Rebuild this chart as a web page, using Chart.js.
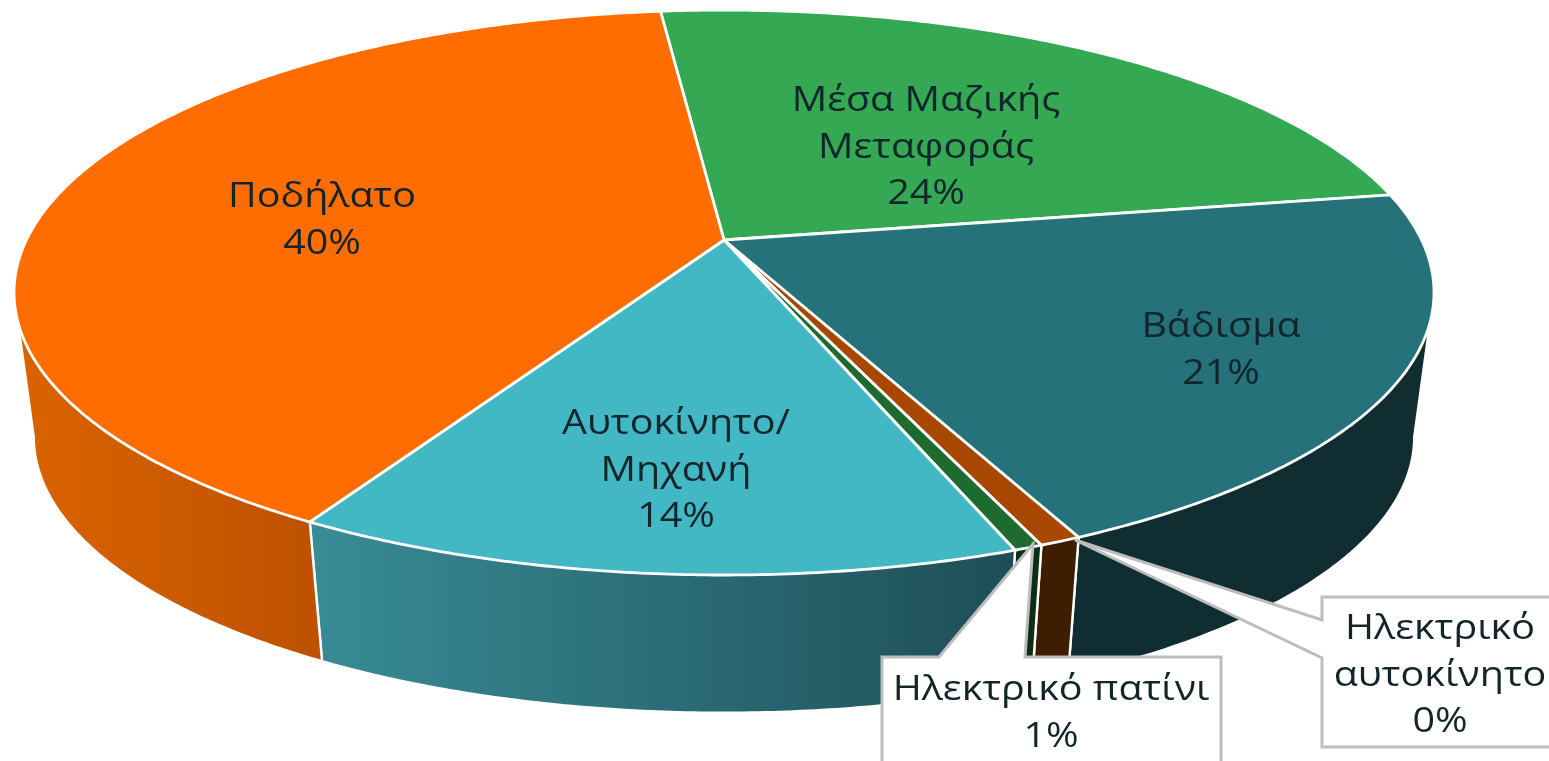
<!DOCTYPE html>
<html><head><meta charset="utf-8">
<style>html,body{margin:0;padding:0;background:#fff}canvas{display:block;filter:blur(0.7px)}</style>
<script src="https://cdn.jsdelivr.net/npm/chart.js@4"></script>
</head><body><canvas id="c" width="1549" height="761"></canvas>
<script>
// Data, in drawing order clockwise from the top
const categories = ['Μέσα Μαζικής Μεταφοράς','Βάδισμα','Ηλεκτρικό αυτοκίνητο','Ηλεκτρικό πατίνι','Αυτοκίνητο/ Μηχανή','Ποδήλατο'];
const shareValues = [24, 20.8, 0.8, 0.55, 13.9, 40];
const percentLabels = ['24%','21%','0%','1%','14%','40%'];
const labelLines = [['Μέσα Μαζικής','Μεταφοράς'],['Βάδισμα'],['Ηλεκτρικό','αυτοκίνητο'],['Ηλεκτρικό πατίνι'],['Αυτοκίνητο/','Μηχανή'],['Ποδήλατο']];

// Styles
const topColors = ['#34A853','#25727A','#A84700','#1E6B30','#42B8C4','#FF6D00'];
const wallLeft  = ['#34A853','#102D31','#3F1D00','#0B2F14','#388C96','#DB6300'];
const wallRight = ['#34A853','#102D31','#3F1D00','#0B2F14','#1E4E57','#BD5100'];
const labelCenters = [[926,148],[1221,351],[1440,676],[1051,714],[676,471],[322,221]];
const rotationDeg = -6.2;

// Perspective projection of the unit disc
const K = 0.186, CX = 724;
const TOP = {a:697.6, b:272.7, cy:240};
const BOT = {a:677,   b:265,   cy:386};
function project(p, angle, r){
  const u = Math.cos(angle)*r, v = Math.sin(angle)*r, w = 1 - K*v;
  return [CX + p.a*u/w, p.cy + p.b*v/w];
}
const D = Math.PI/180;
const topLim = [18.1*D, 161.9*D], botLim = [10.7*D, 169.3*D];
function samples(a0, a1){
  const n = Math.max(2, Math.ceil(Math.abs(a1-a0)/(0.5*D))), out=[];
  for(let i=0;i<=n;i++) out.push(a0+(a1-a0)*i/n);
  return out;
}
function wall(ctx, arc, i){
  const s = arc.startAngle, e = arc.endAngle;
  const clampT = x=>Math.min(topLim[1],Math.max(topLim[0],x));
  const clampB = x=>Math.min(botLim[1],Math.max(botLim[0],x));
  if(e <= topLim[0]-0.01 && e <= botLim[0]) return;
  if(s >= Math.PI) return;
  const sT = s<=topLim[0]?topLim[0]:clampT(s), eT = clampT(e);
  const sB = s<=topLim[0]?botLim[0]:clampB(s), eB = e>=topLim[1]?botLim[1]:clampB(e);
  if(eT<=sT) return;
  const pts = [];
  samples(sT,eT).forEach(a=>pts.push(project(TOP,a,1)));
  samples(eB,sB).forEach(a=>pts.push(project(BOT,a,1)));
  const xs = pts.map(p=>p[0]);
  const g2 = ctx.createLinearGradient(Math.min(...xs),0,Math.max(...xs),0);
  g2.addColorStop(0,wallLeft[i]); g2.addColorStop(1,wallRight[i]);
  ctx.beginPath();
  pts.forEach((p,j)=>j?ctx.lineTo(p[0],p[1]):ctx.moveTo(p[0],p[1]));
  ctx.closePath();
  ctx.fillStyle = g2; ctx.fill();
  // Seams
  ctx.strokeStyle='#fff'; ctx.lineWidth=2.4;
  [[s,sT,sB],[e,eT,eB]].forEach(([edge,t,b])=>{
    if(edge>topLim[0] && edge<topLim[1]){
      const p=project(TOP,t,1), q=project(BOT,b,1);
      ctx.beginPath(); ctx.moveTo(p[0],p[1]); ctx.lineTo(q[0],q[1]); ctx.stroke();
    }
  });
}
function face(ctx, arc, i){
  const c = project(TOP,0,0);
  ctx.beginPath(); ctx.moveTo(c[0],c[1]);
  samples(arc.startAngle,arc.endAngle).forEach(a=>{const p=project(TOP,a,1);ctx.lineTo(p[0],p[1]);});
  ctx.closePath();
  ctx.fillStyle=topColors[i]; ctx.fill();
  ctx.strokeStyle='#fff'; ctx.lineWidth=2.8; ctx.lineJoin='miter'; ctx.stroke();
}
function polygon(ctx, pts){
  ctx.beginPath();
  pts.forEach((p,j)=>j?ctx.lineTo(p[0],p[1]):ctx.moveTo(p[0],p[1]));
  ctx.closePath();
  ctx.fillStyle='#fff'; ctx.fill();
  ctx.strokeStyle='#BDBDBD'; ctx.lineWidth=3; ctx.lineJoin='miter'; ctx.stroke();
}
const FONT = '34px "Open Sans"', LINE = 46.5, STRETCH = 1.16;
function label(ctx, i){
  const lines = labelLines[i].concat(percentLabels[i]);
  const [x,y] = labelCenters[i];
  ctx.save();
  ctx.translate(x,0); ctx.scale(STRETCH,1);
  ctx.font=FONT; ctx.fillStyle='#11252B'; ctx.textAlign='center'; ctx.textBaseline='middle';
  lines.forEach((t,j)=>ctx.fillText(t,0,y+(j-(lines.length-1)/2)*LINE));
  ctx.restore();
}
const pie3d = {
  id:'pie3d',
  beforeDatasetDraw(chart){
    const ctx = chart.ctx, arcs = chart.getDatasetMeta(0).data;
    ctx.save();
    arcs.forEach((a,i)=>wall(ctx,a,i));
    arcs.forEach((a,i)=>face(ctx,a,i));
    // callouts for the two thin slices
    polygon(ctx,[[1322,597],[1565,597],[1565,747],[1322,747],[1322,658],[1075,540],[1322,620]]);
    polygon(ctx,[[882,657],[939,657],[1033,544],[1025,657],[1221,657],[1221,775],[882,775]]);
    arcs.forEach((a,i)=>label(ctx,i));
    ctx.restore();
    return false;
  }
};
new Chart(document.getElementById('c'),{
  type:'pie',
  data:{labels:categories,datasets:[{data:shareValues,backgroundColor:topColors,borderColor:'#fff'}]},
  options:{responsive:false,animation:false,rotation:rotationDeg,devicePixelRatio:1,
    plugins:{legend:{display:false},tooltip:{enabled:false}}},
  plugins:[pie3d]
});
</script></body></html>
